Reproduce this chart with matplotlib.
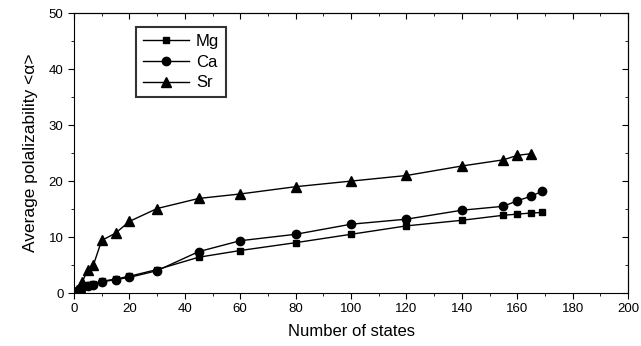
import matplotlib
matplotlib.use("Agg")
import matplotlib.pyplot as plt
from matplotlib.ticker import MultipleLocator

plt.rcParams['font.family'] = ['Liberation Sans', 'DejaVu Sans']

mg_x = [0, 1, 2, 3, 5, 7, 10, 15, 20, 30, 45, 60, 80, 100, 120, 140, 155, 160, 165, 169]
mg_y = [0, 0.3, 0.6, 1.0, 1.4, 1.7, 2.1, 2.5, 3.0, 4.2, 6.4, 7.6, 9.0, 10.5, 12.0, 13.0, 13.9, 14.1, 14.3, 14.4]

ca_x = [0, 1, 2, 3, 5, 7, 10, 15, 20, 30, 45, 60, 80, 100, 120, 140, 155, 160, 165, 169]
ca_y = [0, 0.4, 0.7, 1.0, 1.3, 1.5, 2.0, 2.4, 2.8, 4.0, 7.4, 9.35, 10.5, 12.3, 13.2, 14.8, 15.5, 16.5, 17.3, 18.2]

sr_x = [0, 1, 2, 3, 5, 7, 10, 15, 20, 30, 45, 60, 80, 100, 120, 140, 155, 160, 165]
sr_y = [0, 0.5, 1.0, 2.0, 4.2, 5.0, 9.4, 10.7, 12.8, 15.1, 16.9, 17.7, 19.0, 20.0, 21.0, 22.7, 23.8, 24.6, 24.9]

fig = plt.figure(figsize=(6.41, 3.46), dpi=100)
ax = fig.add_axes([0.1154, 0.153, 0.8646, 0.809])

ax.plot(mg_x, mg_y, '-s', color='black', lw=1, ms=5, label='Mg')
ax.plot(ca_x, ca_y, '-o', color='black', lw=1, ms=6, label='Ca')
ax.plot(sr_x, sr_y, '-^', color='black', lw=1, ms=7, label='Sr')

ax.set_xlim(0, 200)
ax.set_ylim(0, 50)
ax.xaxis.set_major_locator(MultipleLocator(20))
ax.xaxis.set_minor_locator(MultipleLocator(10))
ax.yaxis.set_major_locator(MultipleLocator(10))
ax.yaxis.set_minor_locator(MultipleLocator(5))
ax.tick_params(which='both', direction='out', labelsize=9.5)
ax.tick_params(which='major', length=4)
ax.tick_params(which='minor', length=2.5)

axt = ax.secondary_xaxis('top')
axt.xaxis.set_major_locator(MultipleLocator(20))
axt.xaxis.set_minor_locator(MultipleLocator(10))
axt.tick_params(which='both', direction='in', labeltop=False)
axt.tick_params(which='major', length=4)
axt.tick_params(which='minor', length=2.5)
axr = ax.secondary_yaxis('right')
axr.yaxis.set_major_locator(MultipleLocator(10))
axr.yaxis.set_minor_locator(MultipleLocator(5))
axr.tick_params(which='both', direction='in', labelright=False)
axr.tick_params(which='major', length=4)
axr.tick_params(which='minor', length=2.5)

ax.set_xlabel('Number of states', fontsize=12, labelpad=6)
ax.set_ylabel('Average polalizability <α>', fontsize=12.5, labelpad=8)

leg = ax.legend(loc='upper left', bbox_to_anchor=(0.112, 0.95), borderaxespad=0,
                fontsize=12, frameon=True, fancybox=False, edgecolor='black',
                handlelength=2.8, handletextpad=0.4, borderpad=0.4, labelspacing=0.35)
leg.get_frame().set_linewidth(1.5)

fig.savefig('out.png', dpi=100)
